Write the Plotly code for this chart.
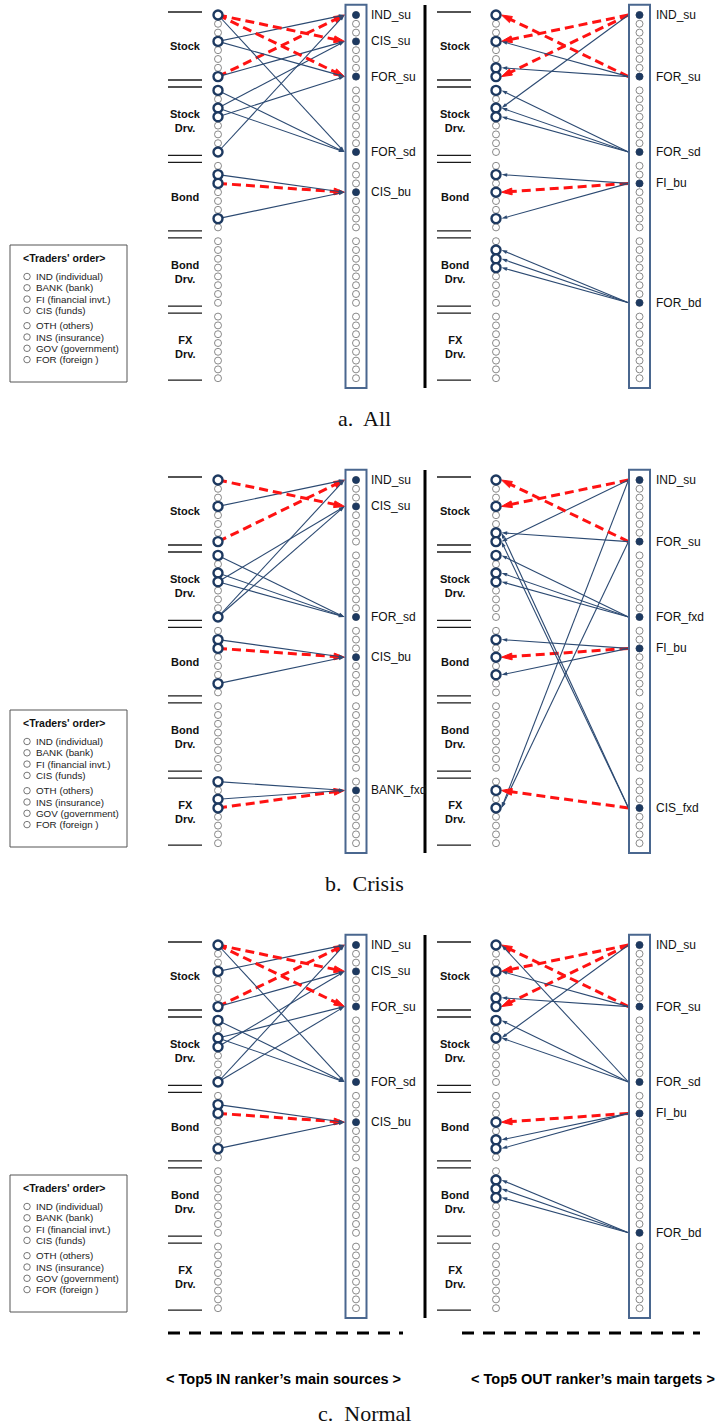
import plotly.graph_objects as go

# ---------------- data ----------------
TRADERS = ["IND", "BANK", "FI", "CIS", "OTH", "INS", "GOV", "FOR"]
MARKET_LABELS = ["Stock", "Stock<br>Drv.", "Bond", "Bond<br>Drv.", "FX<br>Drv."]
LEGEND_ITEMS = ["IND (individual)", "BANK (bank)", "FI (financial invt.)", "CIS (funds)",
                "OTH (others)", "INS (insurance)", "GOV (government)", "FOR (foreign )"]
PANEL_TITLES = ["a.  All", "b.  Crisis", "c.  Normal"]
HALF_TITLES = ["< Top5 IN ranker\u2019s main sources >", "< Top5 OUT ranker\u2019s main targets >"]

# node index = market * 8 + trader
IN_TARGETS = [[0, 3, 7, 15, 19], [0, 3, 15, 19, 33], [0, 3, 7, 15, 19]]
IN_LABELS = [["IND_su", "CIS_su", "FOR_su", "FOR_sd", "CIS_bu"],
             ["IND_su", "CIS_su", "FOR_sd", "CIS_bu", "BANK_fxd"],
             ["IND_su", "CIS_su", "FOR_su", "FOR_sd", "CIS_bu"]]
OUT_TARGETS = [[0, 7, 15, 18, 31], [0, 7, 15, 18, 35], [0, 7, 15, 18, 31]]
OUT_LABELS = [["IND_su", "FOR_su", "FOR_sd", "FI_bu", "FOR_bd"],
              ["IND_su", "FOR_su", "FOR_fxd", "FI_bu", "CIS_fxd"],
              ["IND_su", "FOR_su", "FOR_sd", "FI_bu", "FOR_bd"]]

# links: (left-column node, right-column node, strongest link flag)
IN_EDGES = [
    [(7, 0, 1), (3, 0, 0), (15, 0, 0),
     (0, 3, 1), (7, 3, 0), (10, 3, 0),
     (0, 7, 1), (3, 7, 0), (11, 7, 0),
     (0, 15, 0), (8, 15, 0), (10, 15, 0),
     (18, 19, 1), (17, 19, 0), (22, 19, 0)],
    [(7, 0, 1), (3, 0, 0), (15, 0, 0),
     (0, 3, 1), (11, 3, 0), (15, 3, 0),
     (8, 15, 0), (10, 15, 0), (11, 15, 0),
     (18, 19, 1), (17, 19, 0), (22, 19, 0),
     (35, 33, 1), (32, 33, 0), (34, 33, 0)],
    [(7, 0, 1), (3, 0, 0), (15, 0, 0),
     (0, 3, 1), (7, 3, 0), (11, 3, 0),
     (0, 7, 1), (10, 7, 0), (15, 7, 0),
     (0, 15, 0), (8, 15, 0), (10, 15, 0),
     (18, 19, 1), (17, 19, 0), (22, 19, 0)],
]
OUT_EDGES = [
    [(3, 0, 1), (7, 0, 1), (10, 0, 0),
     (0, 7, 1), (3, 7, 0), (6, 7, 0),
     (8, 15, 0), (10, 15, 0), (11, 15, 0),
     (19, 18, 1), (17, 18, 0), (22, 18, 0),
     (25, 31, 0), (26, 31, 0), (27, 31, 0)],
    [(3, 0, 1), (7, 0, 0), (35, 0, 0),
     (0, 7, 1), (6, 7, 0), (35, 7, 0),
     (8, 15, 0), (10, 15, 0), (11, 15, 0),
     (19, 18, 1), (17, 18, 0), (21, 18, 0),
     (33, 35, 1), (6, 35, 0), (7, 35, 0)],
    [(3, 0, 1), (7, 0, 1), (10, 0, 0),
     (0, 7, 1), (3, 7, 0), (6, 7, 0),
     (0, 15, 0), (8, 15, 0), (10, 15, 0),
     (19, 18, 1), (21, 18, 0), (22, 18, 0),
     (25, 31, 0), (26, 31, 0), (27, 31, 0)],
]

# ---------------- geometry / style ----------------
W, H = 728, 1428
PANEL_TOP = [15, 480, 945]
CAPTION_Y = [418, 883, 1413]
GROUP_STEP, NODE_STEP = 75.4, 8.8
N_NODES = len(TRADERS) * len(MARKET_LABELS)
HALVES = [dict(lab=185, sep=(168, 202), lx=218, rx=356, text=369),
          dict(lab=455, sep=(437, 471), lx=496, rx=639.5, text=654)]

NAVY = "#1d3960"
EDGE = "#2c4a72"
BOX = "#4a678f"
RED = "#ff1212"
GREY = "#6b6b6b"
FONT = "Liberation Sans, Arial, sans-serif"


def node_y(top, i):
    return top + (i // 8) * GROUP_STEP + (i % 8) * NODE_STEP


fig = go.Figure()
shapes, annos = [], []


def add_edge(x0, y0, x1, y1, strong):
    col = RED if strong else EDGE
    fig.add_trace(go.Scatter(
        x=[x0, x1], y=[y0, y1], mode="lines+markers", hoverinfo="skip",
        line=dict(color=col, width=3 if strong else 1.1,
                  dash="9px,5px" if strong else "solid"),
        marker=dict(symbol="arrow", angleref="previous", opacity=1,
                    size=[0, 11 if strong else 6], color=col,
                    line=dict(width=1 if strong else 0, color=col))))


for p, top in enumerate(PANEL_TOP):
    ys = [node_y(top, i) for i in range(N_NODES)]
    last = ys[-1]
    for h, half in enumerate(HALVES):
        edges = IN_EDGES[p] if h == 0 else OUT_EDGES[p]
        tgts = IN_TARGETS[p] if h == 0 else OUT_TARGETS[p]
        labs = IN_LABELS[p] if h == 0 else OUT_LABELS[p]
        lx, rx = half["lx"], half["rx"]

        # separators between markets
        sx0, sx1 = half["sep"]
        lines_y = [ys[0] - 3, last + 2]
        for g in range(1, len(MARKET_LABELS)):
            mid = (ys[g * 8 - 1] + ys[g * 8]) / 2
            lines_y += [mid - 3.5, mid + 3.5]
        for ly in lines_y:
            shapes.append(dict(type="line", xref="x", yref="y", x0=sx0, x1=sx1, y0=ly, y1=ly,
                               line=dict(color="#1a1a1a", width=1.3)))
        for g, name in enumerate(MARKET_LABELS):
            cy = (ys[g * 8] + ys[g * 8 + 7]) / 2
            annos.append(dict(x=half["lab"], y=cy, text="<b>" + name + "</b>", showarrow=False,
                              xref="x", yref="y", xanchor="center", yanchor="middle",
                              font=dict(family=FONT, size=11, color="#111"),
                              align="center"))

        # links
        for l, r, s in edges:
            if h == 0:
                add_edge(lx, ys[l], rx - 11.5, ys[r], s)
            else:
                add_edge(rx - 11, ys[r], lx + 5.5, ys[l], s)

        # node columns
        for cx in (lx, rx):
            fig.add_trace(go.Scatter(
                x=[cx] * N_NODES, y=ys, mode="markers", hoverinfo="skip",
                marker=dict(symbol="circle", size=7, color="white",
                            line=dict(color=GREY, width=0.8))))
        used = sorted({e[0] for e in edges})
        fig.add_trace(go.Scatter(
            x=[lx] * len(used), y=[ys[i] for i in used], mode="markers", hoverinfo="skip",
            marker=dict(symbol="circle", size=9, color="white",
                        line=dict(color=NAVY, width=2.4))))
        fig.add_trace(go.Scatter(
            x=[rx] * len(tgts), y=[ys[i] for i in tgts], mode="markers", hoverinfo="skip",
            marker=dict(symbol="circle", size=7, color=NAVY, line=dict(color=NAVY, width=0.5))))
        for i, t in zip(tgts, labs):
            annos.append(dict(x=half["text"], y=ys[i], text=t, showarrow=False,
                              xref="x", yref="y", xanchor="left", yanchor="middle",
                              font=dict(family=FONT, size=12, color="#111")))
        # frame around target column
        shapes.append(dict(type="rect", xref="x", yref="y", x0=rx - 10.5, x1=rx + 10.5,
                           y0=top - 10.3, y1=top + 373, line=dict(color=BOX, width=2)))

    # divider between halves
    shapes.append(dict(type="line", xref="x", yref="y", x0=425, x1=425,
                       y0=top - 10, y1=top + 373, line=dict(color="#000", width=3)))

    # legend box of trader order
    lt = top + 230
    shapes.append(dict(type="rect", xref="x", yref="y", x0=10, x1=127, y0=lt, y1=lt + 137,
                       line=dict(color="#555", width=1)))
    annos.append(dict(x=21, y=lt + 13, text="<b>&lt;Traders' order&gt;</b>", showarrow=False,
                      xref="x", yref="y", xanchor="left", yanchor="middle",
                      font=dict(family=FONT, size=10.5, color="#111")))
    row_y = [lt + 31.5 + k * 11.3 + (4 if k >= 4 else 0) for k in range(len(LEGEND_ITEMS))]
    fig.add_trace(go.Scatter(
        x=[27] * len(row_y), y=row_y, mode="markers", hoverinfo="skip",
        marker=dict(symbol="circle", size=6.5, color="white", line=dict(color="#555", width=0.8))))
    for ry, item in zip(row_y, LEGEND_ITEMS):
        annos.append(dict(x=34, y=ry, text=item, showarrow=False, xref="x", yref="y",
                          xanchor="left", yanchor="middle",
                          font=dict(family=FONT, size=9.8, color="#222")))

    annos.append(dict(x=364, y=CAPTION_Y[p], text=PANEL_TITLES[p], showarrow=False,
                      xref="x", yref="y", xanchor="center", yanchor="middle",
                      font=dict(family="Liberation Serif, DejaVu Serif, serif", size=22,
                                color="#111")))

# bottom axis-style markers and half titles
for x0, x1, cx, t in [(168, 403, 283, HALF_TITLES[0]), (462, 700, 593, HALF_TITLES[1])]:
    shapes.append(dict(type="line", xref="x", yref="y", x0=x0, x1=x1, y0=1333, y1=1333,
                       line=dict(color="#000", width=3, dash="12px,9px")))
    annos.append(dict(x=cx, y=1379, text="<b>" + t + "</b>", showarrow=False, xref="x", yref="y",
                      xanchor="center", yanchor="middle",
                      font=dict(family=FONT, size=14.5, color="#000")))

fig.update_layout(
    width=W, height=H, margin=dict(l=0, r=0, t=0, b=0),
    paper_bgcolor="white", plot_bgcolor="white", showlegend=False,
    xaxis=dict(range=[0, W], visible=False, fixedrange=True),
    yaxis=dict(range=[H, 0], visible=False, fixedrange=True),
    shapes=shapes, annotations=annos,
)
fig.write_html("out.html")
